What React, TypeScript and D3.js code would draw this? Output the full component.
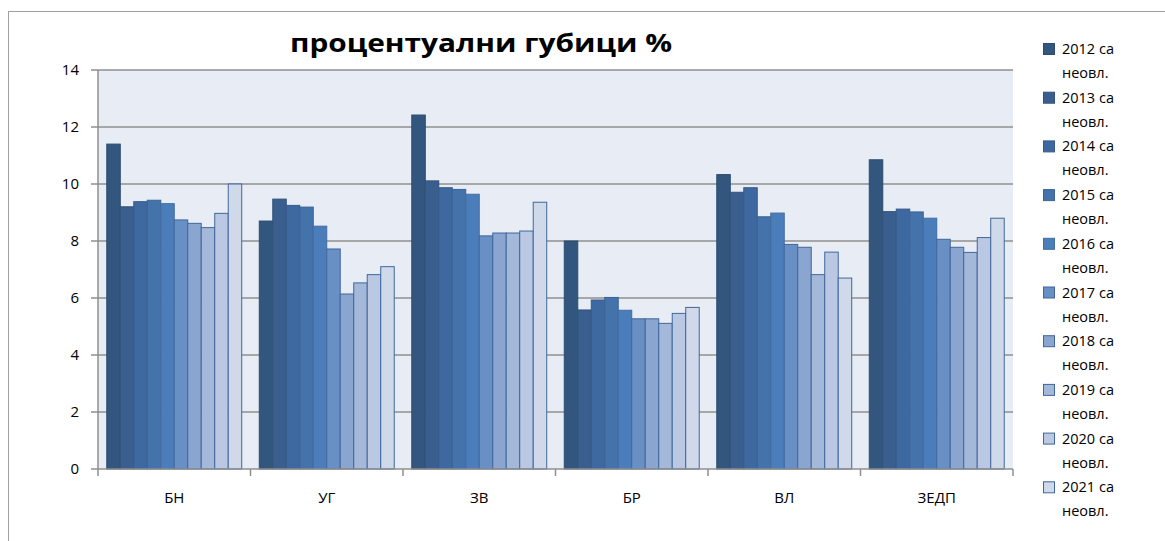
import React, { useEffect, useRef } from "react";
import * as d3 from "d3";

const categories = ["БН", "УГ", "ЗВ", "БР", "ВЛ", "ЗЕДП"];
const seriesNames = [
  "2012 са неовл.",
  "2013 са неовл.",
  "2014 са неовл.",
  "2015 са неовл.",
  "2016 са неовл.",
  "2017 са неовл.",
  "2018 са неовл.",
  "2019 са неовл.",
  "2020 са неовл.",
  "2021 са неовл.",
];
// values per category, in series order 2012..2021
const valuesBN = [11.4, 9.2, 9.38, 9.43, 9.31, 8.74, 8.62, 8.47, 8.97, 10.0];
const valuesUG = [8.7, 9.47, 9.25, 9.19, 8.52, 7.72, 6.14, 6.53, 6.82, 7.1];
const valuesZV = [12.42, 10.11, 9.87, 9.81, 9.64, 8.18, 8.28, 8.28, 8.35, 9.36];
const valuesBR = [8.0, 5.58, 5.93, 6.02, 5.57, 5.27, 5.27, 5.11, 5.46, 5.67];
const valuesVL = [10.33, 9.71, 9.87, 8.85, 8.98, 7.88, 7.78, 6.82, 7.61, 6.7];
const valuesZEDP = [10.85, 9.03, 9.12, 9.02, 8.8, 8.06, 7.78, 7.6, 8.12, 8.8];
const yTicks = [0, 2, 4, 6, 8, 10, 12, 14];

const fills = [
  "#33567f", "#3a5e8e", "#3e69a0", "#4472ab", "#4b7dba",
  "#6890c5", "#8aa5d0", "#a4b8da", "#bac8e3", "#cfd9ea",
];

const App = () => {
  const svgRef = useRef<SVGSVGElement>(null);

  useEffect(() => {
    const svg = d3.select(svgRef.current);
    svg.selectAll("*").remove();
    const table = [valuesBN, valuesUG, valuesZV, valuesBR, valuesVL, valuesZEDP];

    const left = 98, right = 1013, top = 70, bottom = 469;
    const font = "'Open Sans', 'DejaVu Sans', sans-serif";

    // chart area border
    svg.append("rect")
      .attr("x", 8.5).attr("y", 11.5).attr("width", 1170).attr("height", 540)
      .attr("fill", "#fff").attr("stroke", "#a0a0a0");

    const x0 = d3.scaleBand().domain(categories).range([left, right]).paddingInner(0).paddingOuter(0);
    const x1 = d3.scaleBand().domain(seriesNames).range([0, x0.bandwidth()]).paddingInner(0).paddingOuter(0.65);
    const y = d3.scaleLinear().domain([0, 14]).range([bottom, top]);

    svg.append("rect")
      .attr("x", left).attr("y", top).attr("width", right - left).attr("height", bottom - top)
      .attr("fill", "#e8edf5");

    svg.append("g").selectAll("line").data(yTicks.filter((t) => t > 0)).enter().append("line")
      .attr("x1", left).attr("x2", right)
      .attr("y1", (d) => y(d)).attr("y2", (d) => y(d))
      .attr("stroke", "#8f8f8f").attr("stroke-width", 1.5);

    const groups = svg.append("g").selectAll("g").data(categories).enter().append("g")
      .attr("transform", (d) => `translate(${x0(d)},0)`);

    groups.selectAll("rect")
      .data((d, i) => table[i].map((v, j) => ({ v, s: seriesNames[j], j })))
      .enter().append("rect")
      .attr("x", (d) => x1(d.s) as number)
      .attr("y", (d) => y(d.v))
      .attr("width", x1.bandwidth())
      .attr("height", (d) => y(0) - y(d.v))
      .attr("fill", (d) => fills[d.j])
      .attr("stroke", (d) => (d.j < 5 ? d3.color(fills[d.j])!.darker(0.4).toString() : "#40679a"))
      .attr("stroke-width", 1);

    // axes
    svg.append("line").attr("x1", left).attr("x2", left).attr("y1", top).attr("y2", bottom)
      .attr("stroke", "#8f8f8f").attr("stroke-width", 1.5);
    svg.append("line").attr("x1", left).attr("x2", right).attr("y1", bottom).attr("y2", bottom)
      .attr("stroke", "#8f8f8f").attr("stroke-width", 1.5);

    svg.append("g").selectAll("line").data(yTicks).enter().append("line")
      .attr("x1", left - 7).attr("x2", left)
      .attr("y1", (d) => y(d)).attr("y2", (d) => y(d))
      .attr("stroke", "#8f8f8f").attr("stroke-width", 1.5);

    svg.append("g").selectAll("text").data(yTicks).enter().append("text")
      .attr("x", 79).attr("y", (d) => y(d)).attr("dy", "0.35em")
      .attr("text-anchor", "end").attr("font-family", font).attr("font-size", 15)
      .attr("fill", "#000").text((d) => d);

    const catEdges = categories.map((c) => x0(c) as number).concat([right]);
    svg.append("g").selectAll("line").data(catEdges).enter().append("line")
      .attr("x1", (d) => d).attr("x2", (d) => d)
      .attr("y1", bottom).attr("y2", bottom + 7)
      .attr("stroke", "#8f8f8f").attr("stroke-width", 1.5);

    svg.append("g").selectAll("text").data(categories).enter().append("text")
      .attr("x", (d) => (x0(d) as number) + x0.bandwidth() / 2)
      .attr("y", 498).attr("dy", "0.35em")
      .attr("text-anchor", "middle").attr("font-family", font).attr("font-size", 15)
      .text((d) => d);

    // title
    svg.append("text")
      .attr("x", 481).attr("y", 52).attr("text-anchor", "middle")
      .attr("font-family", font).attr("font-weight", "bold").attr("font-size", 25)
      .attr("textLength", 382).attr("lengthAdjust", "spacingAndGlyphs")
      .text("процентуални губици %");

    // legend
    const leg = svg.append("g").selectAll("g").data(seriesNames).enter().append("g")
      .attr("transform", (d, i) => `translate(1043,${49 + i * 48.7})`);
    leg.append("rect")
      .attr("x", 0.5).attr("y", -5.5).attr("width", 11).attr("height", 11)
      .attr("fill", (d, i) => fills[i])
      .attr("stroke", (d, i) => (i < 5 ? d3.color(fills[i])!.darker(0.4).toString() : "#40679a"));
    leg.append("text")
      .attr("x", 19).attr("y", 0).attr("dy", "0.35em")
      .attr("font-family", font).attr("font-size", 14.5)
      .text((d) => d.split(" неовл.")[0]);
    leg.append("text")
      .attr("x", 19).attr("y", 24).attr("dy", "0.35em")
      .attr("font-family", font).attr("font-size", 14.5)
      .text("неовл.");
  }, []);

  return (
    <svg
      ref={svgRef}
      width={1165}
      height={541}
      style={{ position: "absolute", left: 0, top: 0, background: "#fff" }}
    />
  );
};

export default App;
